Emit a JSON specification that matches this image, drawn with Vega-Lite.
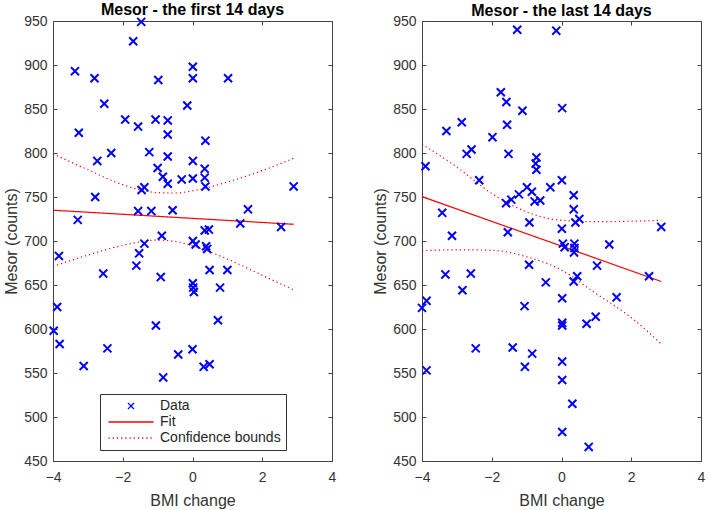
{
  "$schema": "https://vega.github.io/schema/vega-lite/v6.json",
  "background": "white",
  "padding": {"left": 3, "top": 1, "right": 4, "bottom": 0},
  "spacing": 35,
  "datasets": {
    "first_pts": [
      {"x": -1.47, "y": 949, "series": "Data"}, {"x": -1.70, "y": 927, "series": "Data"},
      {"x": -3.37, "y": 893, "series": "Data"}, {"x": -2.81, "y": 885, "series": "Data"},
      {"x": -2.53, "y": 856, "series": "Data"}, {"x": -3.26, "y": 823, "series": "Data"},
      {"x": -1.93, "y": 838, "series": "Data"}, {"x": -1.56, "y": 830, "series": "Data"},
      {"x": -1.06, "y": 838, "series": "Data"}, {"x": -0.71, "y": 837, "series": "Data"},
      {"x": -0.71, "y": 821, "series": "Data"}, {"x": -0.98, "y": 883, "series": "Data"},
      {"x": 0.01, "y": 898, "series": "Data"}, {"x": 0.01, "y": 885, "series": "Data"},
      {"x": -0.15, "y": 854, "series": "Data"}, {"x": 1.02, "y": 885, "series": "Data"},
      {"x": 0.37, "y": 814, "series": "Data"}, {"x": -2.73, "y": 791, "series": "Data"},
      {"x": -2.33, "y": 800, "series": "Data"}, {"x": -1.24, "y": 801, "series": "Data"},
      {"x": -0.71, "y": 796, "series": "Data"}, {"x": 0.01, "y": 791, "series": "Data"},
      {"x": -1.00, "y": 783, "series": "Data"}, {"x": -0.85, "y": 773, "series": "Data"},
      {"x": -0.71, "y": 765, "series": "Data"}, {"x": -0.31, "y": 770, "series": "Data"},
      {"x": 0.01, "y": 771, "series": "Data"}, {"x": 0.35, "y": 782, "series": "Data"},
      {"x": 0.35, "y": 772, "series": "Data"}, {"x": 0.37, "y": 762, "series": "Data"},
      {"x": -1.46, "y": 758, "series": "Data"}, {"x": -1.38, "y": 761, "series": "Data"},
      {"x": 2.90, "y": 762, "series": "Data"}, {"x": -2.79, "y": 750, "series": "Data"},
      {"x": -1.56, "y": 734, "series": "Data"}, {"x": -1.18, "y": 734, "series": "Data"},
      {"x": -0.57, "y": 735, "series": "Data"}, {"x": 1.59, "y": 736, "series": "Data"},
      {"x": -3.29, "y": 724, "series": "Data"}, {"x": 1.37, "y": 720, "series": "Data"},
      {"x": 2.54, "y": 716, "series": "Data"}, {"x": -0.88, "y": 706, "series": "Data"},
      {"x": -1.38, "y": 697, "series": "Data"}, {"x": 0.01, "y": 700, "series": "Data"},
      {"x": 0.09, "y": 696, "series": "Data"}, {"x": 0.35, "y": 712, "series": "Data"},
      {"x": 0.47, "y": 713, "series": "Data"}, {"x": 0.39, "y": 694, "series": "Data"},
      {"x": 0.42, "y": 691, "series": "Data"}, {"x": -3.83, "y": 683, "series": "Data"},
      {"x": -1.53, "y": 686, "series": "Data"}, {"x": -1.61, "y": 672, "series": "Data"},
      {"x": -2.56, "y": 663, "series": "Data"}, {"x": -0.91, "y": 659, "series": "Data"},
      {"x": 0.49, "y": 667, "series": "Data"}, {"x": 1.00, "y": 667, "series": "Data"},
      {"x": 0.01, "y": 652, "series": "Data"}, {"x": 0.02, "y": 647, "series": "Data"},
      {"x": 0.04, "y": 642, "series": "Data"}, {"x": 0.79, "y": 647, "series": "Data"},
      {"x": -3.88, "y": 625, "series": "Data"}, {"x": -1.05, "y": 604, "series": "Data"},
      {"x": 0.73, "y": 610, "series": "Data"}, {"x": -3.98, "y": 598, "series": "Data"},
      {"x": -3.81, "y": 583, "series": "Data"}, {"x": -2.44, "y": 578, "series": "Data"},
      {"x": 0.00, "y": 577, "series": "Data"}, {"x": -0.41, "y": 571, "series": "Data"},
      {"x": -3.12, "y": 558, "series": "Data"}, {"x": 0.32, "y": 557, "series": "Data"},
      {"x": 0.49, "y": 560, "series": "Data"}, {"x": -0.84, "y": 545, "series": "Data"}
    ],
    "first_fit": [
      {"x": -4, "y": 735, "series": "Fit"}, {"x": 2.9, "y": 719, "series": "Fit"}
    ],
    "first_ci": [
      {"x": -4, "y": 799, "bound": "upper", "series": "Confidence bounds"},
      {"x": -3, "y": 781, "bound": "upper", "series": "Confidence bounds"},
      {"x": -2, "y": 764, "bound": "upper", "series": "Confidence bounds"},
      {"x": -1, "y": 755, "bound": "upper", "series": "Confidence bounds"},
      {"x": -0.5, "y": 754.5, "bound": "upper", "series": "Confidence bounds"},
      {"x": 0, "y": 757, "bound": "upper", "series": "Confidence bounds"},
      {"x": 1, "y": 767, "bound": "upper", "series": "Confidence bounds"},
      {"x": 2, "y": 780, "bound": "upper", "series": "Confidence bounds"},
      {"x": 2.9, "y": 794, "bound": "upper", "series": "Confidence bounds"},
      {"x": -4, "y": 671, "bound": "lower", "series": "Confidence bounds"},
      {"x": -3, "y": 684, "bound": "lower", "series": "Confidence bounds"},
      {"x": -2, "y": 695, "bound": "lower", "series": "Confidence bounds"},
      {"x": -1, "y": 701, "bound": "lower", "series": "Confidence bounds"},
      {"x": -0.5, "y": 699.5, "bound": "lower", "series": "Confidence bounds"},
      {"x": 0, "y": 694.5, "bound": "lower", "series": "Confidence bounds"},
      {"x": 1, "y": 679.5, "bound": "lower", "series": "Confidence bounds"},
      {"x": 2, "y": 661, "bound": "lower", "series": "Confidence bounds"},
      {"x": 2.9, "y": 644.5, "bound": "lower", "series": "Confidence bounds"}
    ],
    "last_pts": [
      {"x": -1.27, "y": 940}, {"x": -0.15, "y": 939}, {"x": -1.74, "y": 869}, {"x": -1.58, "y": 858},
      {"x": -1.12, "y": 848}, {"x": 0.02, "y": 851}, {"x": -2.86, "y": 835}, {"x": -3.30, "y": 825},
      {"x": -1.56, "y": 832}, {"x": -1.98, "y": 818}, {"x": -2.72, "y": 799}, {"x": -2.58, "y": 804},
      {"x": -1.52, "y": 799}, {"x": -3.90, "y": 785}, {"x": -0.72, "y": 795}, {"x": -0.74, "y": 788},
      {"x": -0.72, "y": 781}, {"x": -2.36, "y": 769}, {"x": 0.01, "y": 769}, {"x": -0.32, "y": 761},
      {"x": -0.99, "y": 761}, {"x": -0.85, "y": 756}, {"x": -1.22, "y": 753}, {"x": 0.35, "y": 752},
      {"x": -1.44, "y": 747}, {"x": -1.59, "y": 743}, {"x": -0.77, "y": 745}, {"x": -0.61, "y": 746},
      {"x": -3.42, "y": 732}, {"x": 0.35, "y": 736}, {"x": 0.51, "y": 725}, {"x": 0.40, "y": 721},
      {"x": -0.92, "y": 721}, {"x": 2.86, "y": 716}, {"x": 0.01, "y": 714}, {"x": -1.54, "y": 710},
      {"x": -3.14, "y": 706}, {"x": 1.37, "y": 696}, {"x": 0.04, "y": 697}, {"x": 0.37, "y": 697},
      {"x": 0.09, "y": 693}, {"x": 0.37, "y": 692}, {"x": 0.36, "y": 687}, {"x": -0.93, "y": 673},
      {"x": 1.02, "y": 672}, {"x": -3.33, "y": 662}, {"x": -2.60, "y": 663}, {"x": 0.45, "y": 660},
      {"x": 0.35, "y": 654}, {"x": 2.51, "y": 660}, {"x": -0.45, "y": 653}, {"x": -2.84, "y": 644},
      {"x": 0.02, "y": 635}, {"x": 1.58, "y": 636}, {"x": -4.00, "y": 624}, {"x": -3.87, "y": 632},
      {"x": -1.06, "y": 626}, {"x": 0.02, "y": 607}, {"x": 0.02, "y": 604}, {"x": 0.72, "y": 606},
      {"x": 0.98, "y": 614}, {"x": -2.46, "y": 578}, {"x": -1.40, "y": 579}, {"x": -0.84, "y": 572},
      {"x": -1.05, "y": 557}, {"x": 0.02, "y": 563}, {"x": -3.87, "y": 553}, {"x": 0.02, "y": 542},
      {"x": 0.31, "y": 515}, {"x": 0.02, "y": 483}, {"x": 0.78, "y": 466}
    ],
    "last_fit": [
      {"x": -4, "y": 750.5}, {"x": 2.86, "y": 654}
    ],
    "last_ci": [
      {"x": -4, "y": 810, "bound": "upper"}, {"x": -3, "y": 784, "bound": "upper"},
      {"x": -2, "y": 754, "bound": "upper"}, {"x": -1, "y": 733, "bound": "upper"},
      {"x": 0, "y": 723.5, "bound": "upper"}, {"x": 1, "y": 722, "bound": "upper"},
      {"x": 2, "y": 722.5, "bound": "upper"}, {"x": 2.86, "y": 723.5, "bound": "upper"},
      {"x": -4, "y": 689, "bound": "lower"}, {"x": -3, "y": 690, "bound": "lower"},
      {"x": -2, "y": 689.5, "bound": "lower"}, {"x": -1, "y": 682, "bound": "lower"},
      {"x": 0, "y": 667, "bound": "lower"}, {"x": 1, "y": 640, "bound": "lower"},
      {"x": 2, "y": 613, "bound": "lower"}, {"x": 2.86, "y": 583, "bound": "lower"}
    ]
  },
  "resolve": {
    "scale": {"color": "independent", "shape": "independent", "strokeDash": "independent"},
    "legend": {"color": "independent", "shape": "independent", "strokeDash": "independent"}
  },
  "config": {
    "view": {"stroke": "#444444", "strokeWidth": 1},
    "font": "Liberation Sans",
    "axis": {
      "grid": false, "domain": false, "tickColor": "#444444", "tickSize": -4, "tickWidth": 1,
      "labelFont": "Liberation Sans", "labelFontSize": 14, "labelColor": "#333333",
      "labelFlush": false, "labelOverlap": false,
      "titleFont": "Liberation Sans", "titleFontSize": 16, "titleFontWeight": "normal", "titleColor": "#333333"
    },
    "axisX": {"labelPadding": 13, "titlePadding": 8},
    "axisY": {"labelPadding": 10, "titlePadding": 4},
    "title": {"font": "Liberation Sans", "fontSize": 16, "fontWeight": "bold", "color": "#000000", "anchor": "middle", "offset": -4.5}
  },
  "hconcat": [
    {
      "title": "Mesor - the first 14 days",
      "width": 279,
      "height": 440,
      "resolve": {"axis": {"x": "independent", "y": "independent"}},
      "layer": [
        {
          "data": {"name": "first_ci"},
          "mark": {"type": "line", "strokeWidth": 1.2, "interpolate": "monotone"},
          "encoding": {
            "x": {"field": "x", "type": "quantitative", "scale": {"domain": [-4, 4], "nice": false}, "axis": null},
            "y": {"field": "y", "type": "quantitative", "scale": {"domain": [450, 950], "nice": false}, "axis": null},
            "detail": {"field": "bound"},
            "color": {"field": "series", "type": "nominal", "scale": {"domain": ["Data", "Fit", "Confidence bounds"], "range": ["#0000ff", "#ff0000", "#ff0000"]}},
            "strokeDash": {"field": "series", "type": "nominal", "scale": {"domain": ["Data", "Fit", "Confidence bounds"], "range": [[1, 0], [1, 0], [1.2, 3]]}}
          }
        },
        {
          "data": {"name": "first_fit"},
          "mark": {"type": "line", "strokeWidth": 1.2},
          "encoding": {
            "x": {"field": "x", "type": "quantitative", "axis": null},
            "y": {"field": "y", "type": "quantitative", "axis": null},
            "color": {"field": "series", "type": "nominal"},
            "strokeDash": {"field": "series", "type": "nominal"}
          }
        },
        {
          "data": {"name": "first_pts"},
          "mark": {"type": "point", "filled": false, "strokeWidth": 2, "size": 180, "opacity": 1},
          "encoding": {
            "x": {"field": "x", "type": "quantitative", "title": "BMI change", "axis": {"values": [-4, -2, 0, 2, 4], "orient": "bottom"}},
            "y": {"field": "y", "type": "quantitative", "title": "Mesor (counts)", "axis": {"values": [450, 500, 550, 600, 650, 700, 750, 800, 850, 900, 950], "orient": "left"}},
            "color": {
              "field": "series", "type": "nominal",
              "legend": {
                "title": null, "orient": "none", "direction": "vertical", "legendX": 47, "legendY": 373,
                "fillColor": "white", "strokeColor": "#333333", "padding": 5,
                "symbolSize": 100, "symbolStrokeWidth": 1.3, "symbolOffset": 19, "labelOffset": 22,
                "labelFont": "Liberation Sans", "labelFontSize": 14, "labelColor": "#262626", "rowPadding": 2,
                "encode": {"symbols": {"update": {
                  "strokeDash": {"signal": "datum.value === 'Confidence bounds' ? [1.2, 3] : [1, 0]"},
                  "fill": {"value": "transparent"},
                  "size": {"value": 100},
                  "strokeWidth": {"value": 1.3}
                }}}
              }
            },
            "shape": {
              "field": "series", "type": "nominal",
              "scale": {"domain": ["Data", "Fit", "Confidence bounds"], "range": ["M-0.6,-0.6L0.6,0.6M-0.6,0.6L0.6,-0.6", "M-4.5,0L4.5,0", "M-4.5,0L4.5,0"]},
              "legend": {
                "title": null, "orient": "none", "direction": "vertical", "legendX": 47, "legendY": 373,
                "fillColor": "white", "strokeColor": "#333333", "padding": 5,
                "symbolSize": 100, "symbolStrokeWidth": 1.3, "symbolOffset": 19, "labelOffset": 22,
                "labelFont": "Liberation Sans", "labelFontSize": 14, "labelColor": "#262626", "rowPadding": 2
              }
            }
          }
        },
        {
          "data": {"name": "first_pts"},
          "mark": {"type": "point", "opacity": 0},
          "encoding": {
            "x": {"field": "x", "type": "quantitative", "axis": {"orient": "top", "values": [-4, -2, 0, 2, 4], "labels": false, "title": null}},
            "y": {"field": "y", "type": "quantitative", "axis": {"orient": "right", "values": [450, 500, 550, 600, 650, 700, 750, 800, 850, 900, 950], "labels": false, "title": null}}
          }
        }
      ]
    },
    {
      "title": "Mesor - the last 14 days",
      "width": 279,
      "height": 440,
      "resolve": {"axis": {"x": "independent", "y": "independent"}},
      "layer": [
        {
          "data": {"name": "last_ci"},
          "mark": {"type": "line", "color": "#ff0000", "strokeDash": [1.2, 3], "strokeWidth": 1.2, "interpolate": "monotone"},
          "encoding": {
            "x": {"field": "x", "type": "quantitative", "scale": {"domain": [-4, 4], "nice": false}, "axis": null},
            "y": {"field": "y", "type": "quantitative", "scale": {"domain": [450, 950], "nice": false}, "axis": null},
            "detail": {"field": "bound"}
          }
        },
        {
          "data": {"name": "last_fit"},
          "mark": {"type": "line", "color": "#ff0000", "strokeWidth": 1.2},
          "encoding": {
            "x": {"field": "x", "type": "quantitative", "axis": null},
            "y": {"field": "y", "type": "quantitative", "axis": null}
          }
        },
        {
          "data": {"name": "last_pts"},
          "mark": {"type": "point", "filled": false, "color": "#0000ff", "strokeWidth": 2, "size": 180, "opacity": 1, "shape": "M-0.6,-0.6L0.6,0.6M-0.6,0.6L0.6,-0.6"},
          "encoding": {
            "x": {"field": "x", "type": "quantitative", "title": "BMI change", "axis": {"values": [-4, -2, 0, 2, 4], "orient": "bottom"}},
            "y": {"field": "y", "type": "quantitative", "title": "Mesor (counts)", "axis": {"values": [450, 500, 550, 600, 650, 700, 750, 800, 850, 900, 950], "orient": "left"}}
          }
        },
        {
          "data": {"name": "last_pts"},
          "mark": {"type": "point", "opacity": 0},
          "encoding": {
            "x": {"field": "x", "type": "quantitative", "axis": {"orient": "top", "values": [-4, -2, 0, 2, 4], "labels": false, "title": null}},
            "y": {"field": "y", "type": "quantitative", "axis": {"orient": "right", "values": [450, 500, 550, 600, 650, 700, 750, 800, 850, 900, 950], "labels": false, "title": null}}
          }
        }
      ]
    }
  ]
}
